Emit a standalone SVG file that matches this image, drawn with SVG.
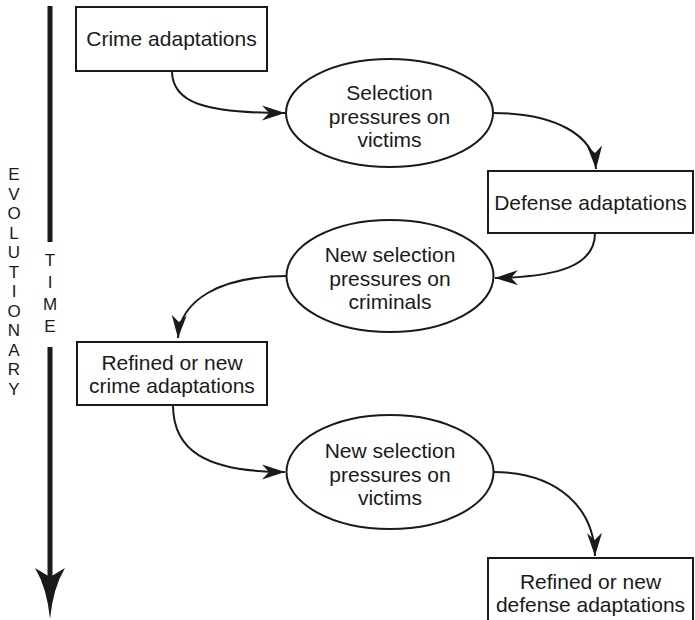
<svg xmlns="http://www.w3.org/2000/svg" width="695" height="620" viewBox="0 0 695 620">
<defs>
<style>
.box{fill:#fff;stroke:#1a1a1a;stroke-width:2}
.ell{fill:#fff;stroke:#1a1a1a;stroke-width:2}
.lbl{font-family:"Liberation Sans",Arial,sans-serif;font-size:21px;fill:#1a1a1a;text-anchor:middle}
.vt{font-family:"Liberation Sans",Arial,sans-serif;font-size:17px;fill:#1a1a1a;text-anchor:middle}
.con{fill:none;stroke:#1a1a1a;stroke-width:2}
</style>
<marker id="ah" markerUnits="userSpaceOnUse" markerWidth="30" markerHeight="20" viewBox="-24 -10 26 20" refX="0" refY="0" orient="auto">
<path d="M0,0 L-23,-7.5 L-16,0 L-23,7.5 Z" fill="#1a1a1a"/>
</marker>
</defs>

<g id="time-axis">
<line x1="50" y1="6" x2="50" y2="242" stroke="#1a1a1a" stroke-width="5"/>
<line x1="50" y1="347" x2="50" y2="580" stroke="#1a1a1a" stroke-width="5"/>
<path d="M35,568 L50,577 L65,568 Q53,588 50,619 Q47,588 35,568 Z" fill="#1a1a1a"/>
<g class="vt">
<text x="14" y="180">E</text>
<text x="14" y="199.5">V</text>
<text x="14" y="219">O</text>
<text x="14" y="238.6">L</text>
<text x="14" y="258.1">U</text>
<text x="14" y="277.6">T</text>
<text x="14" y="297.2">I</text>
<text x="14" y="316.7">O</text>
<text x="14" y="336.2">N</text>
<text x="14" y="355.8">A</text>
<text x="14" y="375.3">R</text>
<text x="14" y="394.8">Y</text>
<text x="50" y="266">T</text>
<text x="50" y="288">I</text>
<text x="50" y="310">M</text>
<text x="50" y="332">E</text>
</g>
</g>

<g id="connectors">
<path class="con" d="M172,71 C172,103 205,113 285,113" marker-end="url(#ah)"/>
<path class="con" d="M493,113 C555,113 594,135 596,169" marker-end="url(#ah)"/>
<path class="con" d="M595,233 C595,265 560,277 495,278" marker-end="url(#ah)"/>
<path class="con" d="M287,276 C220,276 180,300 178,338" marker-end="url(#ah)"/>
<path class="con" d="M173,405 C173,450 205,472 285,472" marker-end="url(#ah)"/>
<path class="con" d="M493,472 C560,472 594,510 595,556" marker-end="url(#ah)"/>
</g>

<g id="crime-adaptations">
<rect class="box" x="76" y="7" width="191" height="64"/>
<text class="lbl" x="171.5" y="46">Crime adaptations</text>
</g>

<g id="selection-victims">
<ellipse class="ell" cx="389.5" cy="113" rx="103.5" ry="54"/>
<text class="lbl" x="389.5" y="100">Selection</text>
<text class="lbl" x="389.5" y="123.5">pressures on</text>
<text class="lbl" x="389.5" y="147">victims</text>
</g>

<g id="defense-adaptations">
<rect class="box" x="488" y="171" width="205" height="62"/>
<text class="lbl" x="590.5" y="209.5">Defense adaptations</text>
</g>

<g id="selection-criminals">
<ellipse class="ell" cx="390" cy="276" rx="103.5" ry="56"/>
<text class="lbl" x="390" y="262">New selection</text>
<text class="lbl" x="390" y="285.5">pressures on</text>
<text class="lbl" x="390" y="309">criminals</text>
</g>

<g id="refined-crime">
<rect class="box" x="77" y="342" width="190" height="63"/>
<text class="lbl" x="172" y="370">Refined or new</text>
<text class="lbl" x="172" y="393">crime adaptations</text>
</g>

<g id="new-selection-victims">
<ellipse class="ell" cx="390" cy="472" rx="103.5" ry="57"/>
<text class="lbl" x="390" y="458">New selection</text>
<text class="lbl" x="390" y="481.5">pressures on</text>
<text class="lbl" x="390" y="505">victims</text>
</g>

<g id="refined-defense">
<rect class="box" x="488" y="558" width="205" height="64"/>
<text class="lbl" x="590.5" y="589">Refined or new</text>
<text class="lbl" x="590.5" y="612">defense adaptations</text>
</g>
</svg>
